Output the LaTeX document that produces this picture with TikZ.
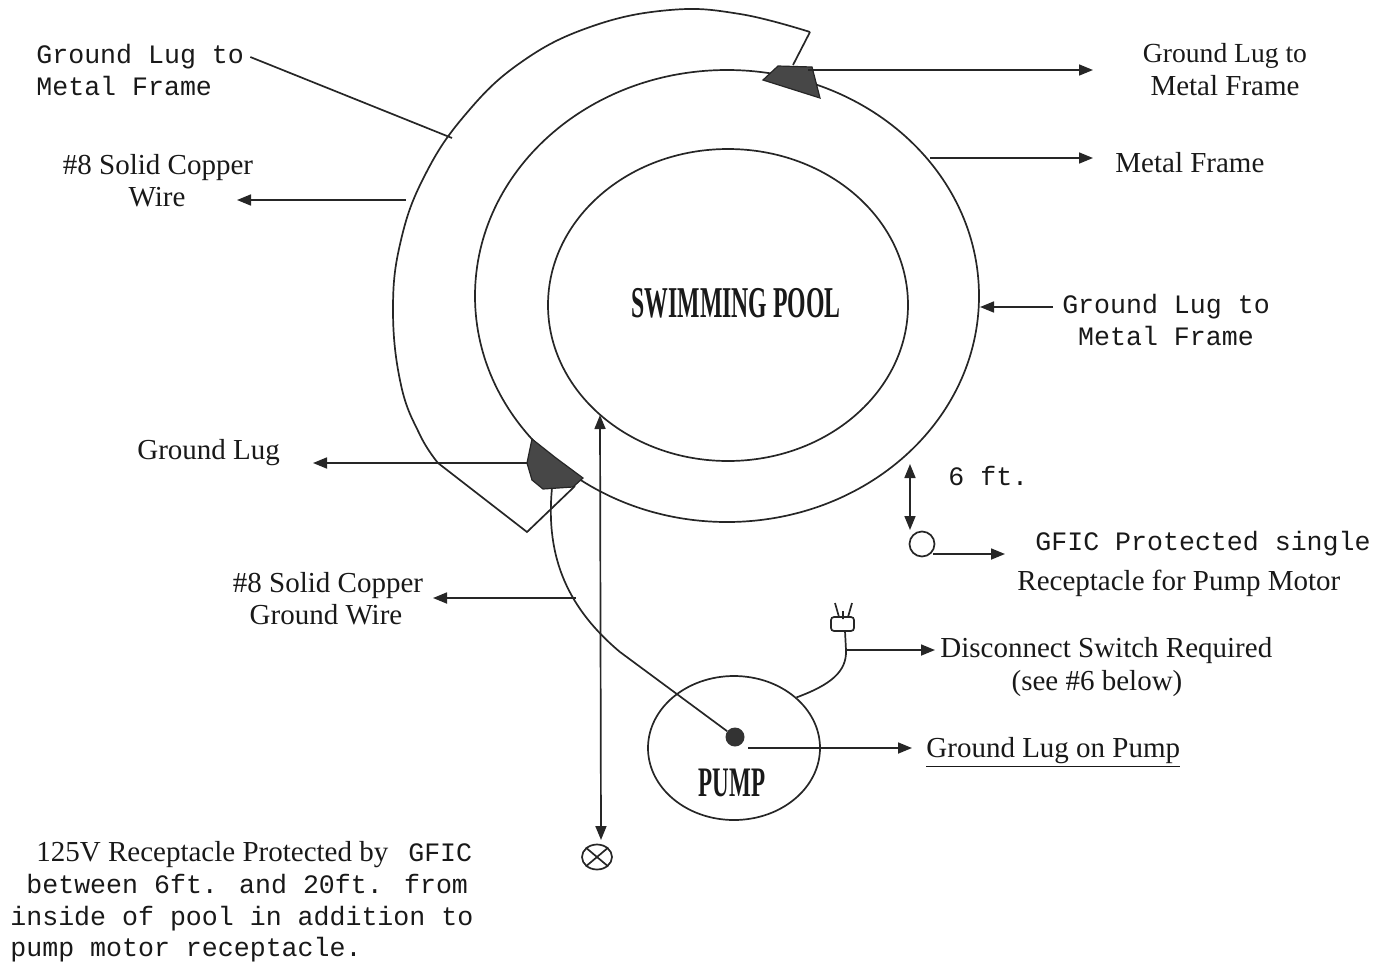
\documentclass[tikz,border=0pt]{standalone}
\usepackage{fontspec}
\usepackage{graphicx}
\setmainfont{Liberation Serif}
\newfontfamily\monof{Liberation Mono}
\usetikzlibrary{arrows.meta,shapes.geometric}
\begin{document}
\begin{tikzpicture}[x=0.5pt,y=-0.5pt,
  wire/.style={line width=0.85pt, draw=black!85},
  arr/.style={wire, -{Triangle[length=7pt,width=5.5pt]}},
  dbl/.style={wire, {Triangle[length=7pt,width=5.5pt]}-{Triangle[length=7pt,width=5.5pt]}},
  lbl/.style={inner sep=0pt, text=black!90, font=\fontsize{14.5}{16}\selectfont},
  mlbl/.style={inner sep=0pt, text=black!90, font=\monof\fontsize{13.3}{16}\selectfont},
  lug/.style={fill=black!72, draw=black!85, line width=0.6pt},
  big/.style={inner sep=0pt, text=black!90}]
\useasboundingbox (0,0) rectangle (1382,965);

% ---------- pool rings ----------
\draw[wire] (728,305) ellipse [x radius=180, y radius=156];
\draw[wire] (727,296) ellipse [x radius=252, y radius=226];
% outer wire (partial ring)
\coordinate (owA) at (810,32);
\coordinate (owB) at (438,463);
\coordinate (owC) at (527,532);
\draw[wire] (793,65) -- (owA)
  plot[smooth, tension=0.7] coordinates {(810,32) (740,14) (670,10) (590,27) (520,63) (465,115) (425,175) (401,240) (393,310) (401,385) (420,435) (438,463)}
  -- (owC) -- (575,486);

% lugs
\draw[lug] (763,80) -- (778,66) -- (812,67) -- (820,98) -- cycle;
\draw[lug] (532,439) -- (556,458) -- (583,478) -- (573,487) -- (543,489) -- (532,480) -- (527,463) -- cycle;

\node[big] (pool) at (736,303) {\scalebox{0.54}[1]{\bfseries\fontsize{22}{22}\selectfont SWIMMING POOL}};

% ---------- labels ----------
\node[mlbl, anchor=base west] (tlA) at (36,63) {Ground Lug to};
\node[mlbl, anchor=base west] (tlB) at (36,95) {Metal Frame};

\node[lbl, anchor=base] (cwA) at (158,174) {\#8 Solid Copper};
\node[lbl, anchor=base] (cwB) at (157,206) {Wire};

\node[lbl, anchor=base] (trA) at (1225,62) {\fontsize{13.8}{16}\selectfont Ground Lug to};
\node[lbl, anchor=base] (trB) at (1225,95) {Metal Frame};

\node[lbl, anchor=base west] (mf) at (1115,172) {Metal Frame};

\node[mlbl, anchor=base] (rgA) at (1166,313) {Ground Lug to};
\node[mlbl, anchor=base] (rgB) at (1166,345) {Metal Frame};

\node[lbl, anchor=base west] (gl) at (137,459) {Ground Lug};

\node[lbl, anchor=base] (gwA) at (328,592) {\#8 Solid Copper};
\node[lbl, anchor=base] (gwB) at (326,624) {Ground Wire};

\node[mlbl, anchor=base west] (six) at (948,485) {6 ft.};
\node[mlbl, anchor=base west] (gfA) at (1035,550) {GFIC Protected single};
\node[lbl, anchor=base west] (gfB) at (1017,590) {Receptacle for Pump Motor};

\node[lbl, anchor=base west] (dsA) at (940,657) {Disconnect Switch Required};
\node[lbl, anchor=base] (dsB) at (1097,690) {(see \#6 below)};

\node[lbl, anchor=base west] (glp) at (926,757) {\underline{Ground Lug on Pump}};

\node[lbl, anchor=base west] (btA) at (36,861) {125V Receptacle Protected by\hspace{10pt}{\monof\fontsize{13.3}{16}\selectfont GFIC}};
\node[mlbl, anchor=base west] (btB) at (26,893) {between 6ft. and 20ft. from};
\node[mlbl, anchor=base west] (btC) at (10,925) {inside of pool in addition to};
\node[mlbl, anchor=base west] (btD) at (10,956) {pump motor receptacle.};

% ---------- pump ----------
\node[draw=black!85, line width=0.85pt, ellipse, minimum width=86pt, minimum height=72pt, inner sep=0pt] (pump) at (734,748) {};
\node[big] (pumpt) at (732,783) {\scalebox{0.55}[1]{\bfseries\fontsize{21}{21}\selectfont PUMP}};
\node[circle, fill=black!80, minimum size=9.5pt, inner sep=0pt] (pd) at (735,737) {};

% receptacles
\node[ellipse, draw=black!85, line width=0.85pt, minimum width=15pt, minimum height=12.5pt, inner sep=0pt] (rec) at (597,857) {};
\draw[wire] (rec.north west) -- (rec.south east) (rec.north east) -- (rec.south west);
\node[circle, draw=black!85, line width=0.85pt, minimum size=12.5pt, inner sep=0pt] (prec) at (922,544) {};

% disconnect plug
\draw[wire, rounded corners=1.5pt] (831,617) rectangle (854,631);
\draw[wire] (835,603) -- (839,617) (852,603) -- (848,617) (843,611) -- (843,619);
\coordinate (cordA) at (845,631);
\coordinate (cordB) at (846,650);
\draw[wire] (cordA) -- (cordB) .. controls (847,672) and (830,685) .. (pump.39);

% ---------- connectors ----------
\coordinate (l1s) at ([xshift=3pt,yshift=3pt]tlA.base east);
\coordinate (l1e) at (452,138);
\draw[wire] (l1s) -- (l1e);

\coordinate (l2s) at (808,70);
\coordinate (l2e) at (1093,70);
\draw[arr] (l2s) -- (l2e);

\coordinate (l3s) at (930,158);
\coordinate (l3e) at (1093,158);
\draw[arr] (l3s) -- (l3e);

\coordinate (l4s) at (406,200);
\coordinate (l4e) at (237,200);
\draw[arr] (l4s) -- (l4e);

\coordinate (l5s) at (1053,307);
\coordinate (l5e) at (980,307);
\draw[arr] (l5s) -- (l5e);

\coordinate (l6s) at (527,463);
\coordinate (l6e) at (313,463);
\draw[arr] (l6s) -- (l6e);

% ground wire lug -> pump
\coordinate (gwS) at (552,488);
\draw[wire] (gwS) .. controls (545,560) and (570,610) .. (620,652) -- (pd);
\coordinate (l7s) at (576,598);
\coordinate (l7e) at (433,598);
\draw[arr] (l7s) -- (l7e);

\coordinate (vA) at (600,415);
\coordinate (vB) at (601,840);
\draw[dbl] (vA) -- (vB);

\coordinate (l8s) at (748,748);
\coordinate (l8e) at (912,748);
\draw[arr] (l8s) -- (l8e);

\coordinate (l9e) at (935,650);
\draw[arr] (cordB) -- (l9e);

\coordinate (sixA) at (910,464);
\coordinate (sixB) at (910,530);
\draw[dbl] (sixA) -- (sixB);

\coordinate (l10s) at (933,554);
\coordinate (l10e) at (1005,554);
\draw[arr] (l10s) -- (l10e);
\end{tikzpicture}
\end{document}
